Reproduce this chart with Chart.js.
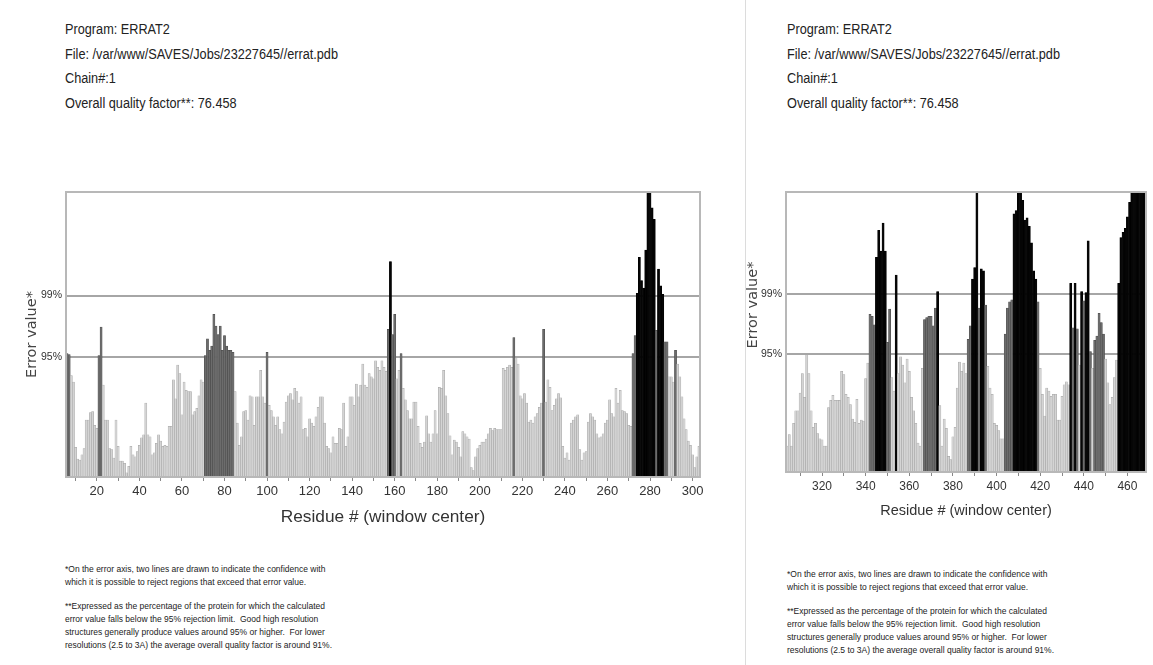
<!DOCTYPE html>
<html><head><meta charset="utf-8">
<script src="https://cdn.jsdelivr.net/npm/chart.js@4.4.1/dist/chart.umd.min.js"></script>
<style>
html,body{margin:0;padding:0;background:#fff;}
body{width:1153px;height:665px;position:relative;overflow:hidden;font-family:'Liberation Sans',Arial,sans-serif;color:#222;}
.hdr{position:absolute;top:17px;font-size:14px;line-height:24.5px;white-space:nowrap;color:#222;transform-origin:left top;}
.note{position:absolute;font-size:9.5px;line-height:13px;white-space:nowrap;color:#222;transform-origin:left top;}
.note p{margin:0 0 10.5px 0;}
.ln{display:inline-block;}
.wrap{position:absolute;}
.sep{position:absolute;left:745px;top:0;width:1px;height:665px;background:#dcdcdc;}
</style></head>
<body>
<div class="sep"></div>
<div class="hdr" data-w="273" style="left:65px"><span class="ln">Program: ERRAT2</span><br><span class="ln">File: /var/www/SAVES/Jobs/23227645//errat.pdb</span><br><span class="ln">Chain#:1</span><br><span class="ln">Overall quality factor**: 76.458</span></div>
<div class="hdr" data-w="273" style="left:787px"><span class="ln">Program: ERRAT2</span><br><span class="ln">File: /var/www/SAVES/Jobs/23227645//errat.pdb</span><br><span class="ln">Chain#:1</span><br><span class="ln">Overall quality factor**: 76.458</span></div>
<div class="note" data-w="267" style="left:65px;top:562px"><p><span class="ln">*On the error axis, two lines are drawn to indicate the confidence with</span><br><span class="ln">which it is possible to reject regions that exceed that error value.</span></p><p><span class="ln">**Expressed as the percentage of the protein for which the calculated</span><br><span class="ln">error value falls below the 95% rejection limit.&nbsp; Good high resolution</span><br><span class="ln">structures generally produce values around 95% or higher.&nbsp; For lower</span><br><span class="ln">resolutions (2.5 to 3A) the average overall quality factor is around 91%.</span></p></div>
<div class="note" data-w="267" style="left:787px;top:567px"><p><span class="ln">*On the error axis, two lines are drawn to indicate the confidence with</span><br><span class="ln">which it is possible to reject regions that exceed that error value.</span></p><p><span class="ln">**Expressed as the percentage of the protein for which the calculated</span><br><span class="ln">error value falls below the 95% rejection limit.&nbsp; Good high resolution</span><br><span class="ln">structures generally produce values around 95% or higher.&nbsp; For lower</span><br><span class="ln">resolutions (2.5 to 3A) the average overall quality factor is around 91%.</span></p></div>
<div class="wrap" style="left:20px;top:180px;width:700px;height:352px"><canvas id="c1"></canvas></div>
<div class="wrap" style="left:740px;top:180px;width:413px;height:344px"><canvas id="c2"></canvas></div>
<script>
// ---- data ----
const leftFirstResidue = 6;
const leftErrors = [
 11.7,11.6,9.6,9.0,2.8,1.7,1.6,2.1,2.7,5.4,      // 6-15
 5.4,6.1,6.2,4.9,4.6,11.5,14.2,8.7,5.4,5.4,      // 16-25
 2.7,2.6,1.8,5.4,2.9,1.5,1.5,1.3,0.4,1.0,        // 26-35
 2.9,2.1,1.9,2.4,3.0,3.7,4.0,7.0,4.0,3.8,        // 36-45
 2.1,2.3,3.2,4.0,3.4,2.9,3.0,2.9,4.8,4.8,        // 46-55
 9.2,7.4,10.6,9.8,5.9,9.0,8.2,8.1,8.1,5.9,       // 56-65
 6.2,6.5,7.7,9.2,9.0,11.5,13.1,12.0,12.4,15.4,   // 66-75
 14.3,13.5,14.3,12.0,13.4,12.4,12.0,12.0,11.8,8.1, // 76-85
 5.1,3.0,3.8,6.2,6.3,5.4,7.7,7.6,4.9,7.6,        // 86-95
 7.6,10.1,7.6,7.0,11.8,6.8,6.3,5.7,4.9,5.7,      // 96-105
 4.5,4.1,5.2,7.1,7.7,7.9,7.3,8.4,8.1,7.0,        // 106-115
 7.6,4.5,4.6,3.8,5.5,5.1,4.8,5.7,6.6,7.6,        // 116-125
 7.6,5.1,2.9,2.7,2.3,3.8,3.2,3.2,4.6,4.5,        // 126-135
 7.0,2.9,3.8,7.6,7.6,6.8,8.8,7.6,8.7,10.7,       // 136-145
 8.7,8.5,9.8,9.5,9.3,11.0,10.4,10.1,11.0,10.4,   // 146-155
 10.0,14.0,20.4,13.5,15.4,9.3,10.1,11.7,8.4,7.3, // 156-165
 6.3,5.5,5.5,7.1,7.1,4.8,3.2,2.8,3.3,5.8,        // 166-175
 4.1,3.3,4.1,6.3,4.1,8.5,8.4,10.1,7.7,6.0,       // 176-185
 3.9,2.1,3.5,3.3,2.8,1.9,4.3,4.1,3.8,3.6,        // 186-195
 0.9,0.6,1.9,2.7,3.0,3.3,3.3,3.6,4.1,4.6,        // 196-205
 4.4,4.6,4.5,4.5,4.5,10.3,10.1,10.4,10.6,10.4,   // 206-215
 13.2,11.3,10.7,7.7,7.4,7.9,7.0,5.2,5.4,5.1,     // 216-225
 5.7,6.0,6.6,7.0,14.0,7.1,9.2,8.5,6.3,6.8,       // 226-235
 7.4,7.9,7.5,2.9,1.8,2.3,1.6,5.1,5.4,5.7,        // 236-245
 5.9,2.6,1.6,2.3,2.4,5.2,6.0,5.7,5.4,4.1,        // 246-255
 3.7,3.8,4.1,5.1,5.4,7.3,6.0,5.7,8.4,7.0,        // 256-265
 8.2,6.3,6.2,6.0,4.9,4.8,11.7,13.4,17.4,20.8,    // 266-275
 18.6,17.9,21.5,27,27,25.5,24.4,13.9,19.7,18.1,  // 276-285
 17.3,12.8,12.8,9.5,9.5,9.0,12.0,10.7,9.5,7.6,   // 286-295
 5.5,4.5,3.4,3.0,2.1,0.9,1.9,2.9                 // 296-303
];
const rightFirstResidue = 304;
const rightErrors = [
 2.5,3.6,2.5,4.7,5.9,5.9,7.6,9.5,7.2,11.3,       // 304-313
 9.5,5.9,4.3,4.7,3.7,3.2,3.1,2.5,2.5,6.2,        // 314-323
 6.9,7.4,6.9,6.9,6.9,9.7,9.4,7.5,7.2,6.5,        // 324-333
 5.1,4.8,7.0,4.7,5.0,4.9,9.0,10.5,15.2,15.0,     // 334-343
 14.2,20.7,23.3,21.3,24.0,21.3,12.5,15.7,9.1,7.8, // 344-353
 19.0,9.5,11.1,10.3,8.6,10.9,9.7,7.2,5.9,4.7,    // 354-363
 2.8,2.5,10.0,14.7,14.9,15.0,15.0,14.1,15.8,17.4, // 364-373
 6.4,2.5,5.1,4.2,1.5,1.2,3.4,4.3,8.1,10.6,       // 374-383
 9.7,10.5,9.5,12.8,14.1,18.6,19.7,27,15.8,19.6,  // 384-393
 19.4,16.1,10.2,8.1,7.5,4.7,4.5,4.0,3.2,3.2,     // 394-403
 13.3,15.8,16.4,16.6,24.9,25.2,27,27,26.2,24.3,  // 404-413
 24.5,23.7,22.1,19.4,18.6,16.4,10.0,7.5,5.4,8.1, // 414-423
 7.8,7.3,7.5,7.5,5.0,5.0,7.3,8.4,8.7,8.4,        // 424-433
 18.2,13.9,18.2,13.8,10.3,17.4,16.5,17.3,22.3,11.6, // 434-443
 10.0,12.7,13.1,15.3,14.4,13.3,10.9,8.6,6.5,7.2, // 444-453
 9.1,10.8,18.2,22.6,23.1,23.5,24.6,26.0,27,27,   // 454-463
 27,27,27,27,27                                  // 464-468
];
const limitValues = [11.36, 17.19];      // 95% and 99% rejection limits
const limitLabels = ['95%', '99%'];
const errorMax = 27;
const labelEvery = 20, tickEvery = 10;
const yTitleText = 'Error value*';
const xTitleText = 'Residue # (window center)';

const leftResidues = leftErrors.map((_, i) => leftFirstResidue + i);
const rightResidues = rightErrors.map((_, i) => rightFirstResidue + i);

// condense the HTML text blocks to the reference's narrow type width
document.querySelectorAll('[data-w]').forEach(el => {
  let w = 0;
  el.querySelectorAll('.ln').forEach(s => { w = Math.max(w, s.getBoundingClientRect().width); });
  if (w > 0) el.style.transform = 'scaleX(' + (parseFloat(el.dataset.w) / w) + ')';
});

Chart.defaults.font.family = "'Liberation Sans',Arial,sans-serif";
Chart.defaults.color = '#333';

function barFill(v){ return v > limitValues[1] ? '#050505' : (v > limitValues[0] ? '#6c6c6c' : '#d4d4d4'); }
function barEdge(v){ return v > limitValues[1] ? '#000000' : (v > limitValues[0] ? '#474747' : '#a3a3a3'); }

const framePlugin = {
  id: 'frame',
  afterDatasetsDraw(chart){
    const {ctx, chartArea: a} = chart;
    ctx.save();
    ctx.strokeStyle = '#b8b8b8';
    ctx.lineWidth = 2;
    ctx.strokeRect(a.left, a.top, a.right - a.left, a.bottom - a.top);
    ctx.restore();
  }
};

// vertical axis title, placed beside the y labels
const yTitlePlugin = {
  id: 'yTitle',
  afterDraw(chart, args, o){
    const {ctx, chartArea: a} = chart;
    ctx.save();
    ctx.translate(a.left - o.gap, (a.top + a.bottom) / 2 + o.shift);
    ctx.rotate(-Math.PI / 2);
    ctx.font = "14.5px 'DejaVu Sans', sans-serif";
    ctx.fillStyle = '#444';
    ctx.textAlign = 'center';
    ctx.textBaseline = 'middle';
    ctx.fillText(yTitleText, 0, 0);
    ctx.restore();
  }
};

function makeChart(id, residues, errors, opt){
  return new Chart(document.getElementById(id), {
    type: 'bar',
    data: {
      labels: residues,
      datasets: [{
        data: errors,
        backgroundColor: c => barFill(c.raw),
        borderColor: c => barEdge(c.raw),
        borderWidth: 0.5,
        barPercentage: 1,
        categoryPercentage: 1
      }]
    },
    options: {
      responsive: true,
      maintainAspectRatio: false,
      animation: false,
      devicePixelRatio: 1,
      layout: { padding: { top: 12, right: opt.padRight, left: 0, bottom: 0 } },
      plugins: {
        legend: { display: false },
        tooltip: { enabled: false },
        yTitle: { gap: opt.titleGap, shift: opt.titleShift }
      },
      scales: {
        x: {
          type: 'category',
          offset: true,
          afterFit: s => { s.height = opt.xHeight; },
          border: { display: false },
          grid: {
            drawOnChartArea: false,
            drawTicks: true,
            tickLength: 4,
            offset: false,
            lineWidth: 1,
            color: c => (residues[c.index] % tickEvery === 0) ? '#888' : 'rgba(0,0,0,0)'
          },
          ticks: {
            autoSkip: false,
            maxRotation: 0,
            minRotation: 0,
            padding: 3,
            font: { size: opt.tickSize },
            color: '#333',
            callback: function(v, i){ const r = residues[i]; return r % labelEvery === 0 ? String(r) : ''; }
          },
          title: {
            display: true,
            text: xTitleText,
            font: { size: opt.xTitleSize },
            color: '#333',
            padding: { top: 0, bottom: 4 }
          }
        },
        y: {
          min: 0,
          max: errorMax,
          afterFit: s => { s.width = opt.yWidth; },
          afterBuildTicks: s => { s.ticks = limitValues.map(v => ({ value: v })); },
          border: { display: false },
          grid: { drawTicks: false, color: '#a6a6a6', lineWidth: 2 },
          ticks: {
            padding: 4,
            font: { size: 10.5 },
            color: '#333',
            callback: v => { const k = limitValues.indexOf(v); return k >= 0 ? limitLabels[k] : ''; }
          },
          title: { display: false }
        }
      }
    },
    plugins: [framePlugin, yTitlePlugin]
  });
}

makeChart('c1', leftResidues, leftErrors, { padRight: 20, xHeight: 55, yWidth: 46, tickSize: 13, xTitleSize: 17.3, titleGap: 34, titleShift: 0 });
makeChart('c2', rightResidues, rightErrors, { padRight: 7, xHeight: 52, yWidth: 46, tickSize: 12, xTitleSize: 14.5, titleGap: 33, titleShift: -27 });
</script>
</body></html>
